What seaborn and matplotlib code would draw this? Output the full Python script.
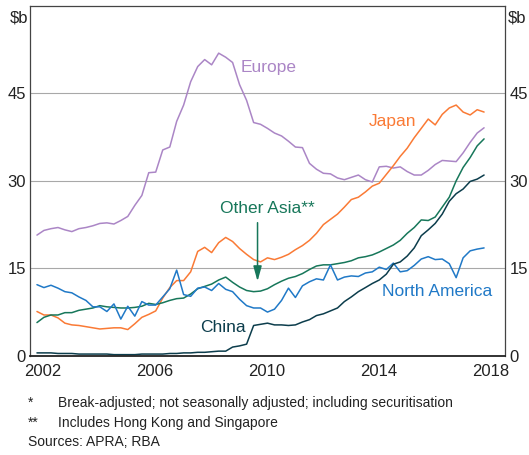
import matplotlib
matplotlib.use("Agg")
from matplotlib import pyplot as plt
import matplotlib.dates as mdates
import pandas as pd
import seaborn as sns

# quarterly observations, Mar-2002 .. Mar-2018 ($b)
dates = pd.date_range("2002-03-31", "2018-03-31", freq="QE")

europe = [20.7, 21.5, 21.8, 22.0, 21.6, 21.3, 21.8, 22.0, 22.3, 22.7, 22.8, 22.6, 23.2, 23.9, 25.8, 27.5,
          31.4, 31.5, 35.3, 35.8, 40.2, 43.0, 47.0, 49.6, 50.8, 49.9, 51.9, 51.2, 50.3, 46.5, 43.8, 40.0,
          39.7, 39.0, 38.2, 37.7, 36.8, 35.8, 35.7, 33.0, 32.0, 31.3, 31.2, 30.5, 30.2, 30.6, 31.0, 30.2,
          29.8, 32.4, 32.5, 32.2, 32.4, 31.6, 31.0, 31.0, 31.8, 32.8, 33.5, 33.4, 33.3, 34.8, 36.6, 38.2, 39.1]
japan = [7.6, 7.0, 7.0, 6.5, 5.6, 5.3, 5.2, 5.0, 4.8, 4.6, 4.7, 4.8, 4.8, 4.5, 5.5, 6.6,
         7.1, 7.7, 9.9, 11.7, 12.9, 12.9, 14.4, 17.9, 18.6, 17.7, 19.4, 20.3, 19.6, 18.4, 17.4, 16.5,
         16.1, 16.8, 16.5, 16.9, 17.4, 18.2, 18.9, 19.8, 21.0, 22.5, 23.4, 24.3, 25.5, 26.8, 27.2, 28.1,
         29.1, 29.6, 31.1, 32.6, 34.2, 35.6, 37.4, 39.0, 40.6, 39.6, 41.4, 42.5, 43.0, 41.8, 41.3, 42.2, 41.8]
other_asia = [5.7, 6.6, 7.0, 7.0, 7.4, 7.4, 7.8, 8.0, 8.2, 8.6, 8.4, 8.3, 8.2, 8.2, 8.3, 8.5,
              9.0, 8.8, 9.1, 9.5, 9.8, 9.9, 10.6, 11.5, 11.9, 12.3, 13.0, 13.5, 12.6, 11.8, 11.2, 11.0,
              11.1, 11.5, 12.2, 12.8, 13.3, 13.6, 14.1, 14.8, 15.4, 15.6, 15.6, 15.8, 16.0, 16.3, 16.8, 17.0,
              17.3, 17.8, 18.4, 19.0, 19.8, 21.0, 22.0, 23.3, 23.2, 23.8, 25.5, 27.2, 30.0, 32.3, 34.0, 36.0, 37.2]
north_america = [12.2, 11.7, 12.1, 11.6, 11.0, 10.8, 10.1, 9.5, 8.4, 8.4, 7.6, 8.9, 6.3, 8.5, 6.8, 9.3,
                 8.7, 8.7, 10.1, 11.5, 14.7, 10.5, 10.2, 11.6, 11.8, 11.2, 12.4, 11.4, 11.0, 9.7, 8.6, 8.2,
                 8.2, 7.5, 8.0, 9.5, 11.6, 10.0, 12.0, 12.7, 13.2, 13.0, 15.6, 13.0, 13.5, 13.7, 13.6, 14.2,
                 14.4, 15.2, 14.8, 15.9, 14.4, 14.6, 15.5, 16.6, 17.0, 16.5, 16.6, 15.8, 13.4, 16.8, 18.0, 18.3, 18.5]
china = [0.5, 0.5, 0.5, 0.4, 0.4, 0.4, 0.3, 0.3, 0.3, 0.3, 0.3, 0.2, 0.2, 0.2, 0.2, 0.3,
         0.3, 0.3, 0.3, 0.4, 0.4, 0.5, 0.5, 0.6, 0.6, 0.7, 0.8, 0.8, 1.5, 1.7, 2.0, 5.2,
         5.4, 5.6, 5.3, 5.3, 5.2, 5.3, 5.8, 6.2, 6.9, 7.2, 7.7, 8.2, 9.3, 10.1, 11.0, 11.7,
         12.4, 13.0, 14.0, 15.7, 16.1, 17.1, 18.5, 20.6, 21.6, 22.7, 24.3, 26.5, 27.8, 28.6, 29.9, 30.3, 31.0]

series_names = ["Europe", "Japan", "Other Asia**", "North America", "China"]
series_values = [europe, japan, other_asia, north_america, china]
colors = {"Europe": "#AB86C6", "Japan": "#FA7A35", "Other Asia**": "#17775A",
          "North America": "#2079C7", "China": "#0C3D4C"}

y_ticks = [0, 15, 30, 45]
label_years = [2002, 2006, 2010, 2014, 2018]
footnotes = ["Break-adjusted; not seasonally adjusted; including securitisation",
             "Includes Hong Kong and Singapore"]

df = pd.concat([pd.DataFrame({"date": dates, "value": v, "region": n})
                for n, v in zip(series_names, series_values)], ignore_index=True)

sns.set_style("white")
plt.rcParams["font.family"] = ["Liberation Sans", "DejaVu Sans"]

fig = plt.figure(figsize=(5.29, 4.55), dpi=100)
ax = fig.add_axes([0.057, 0.218, 0.898, 0.769])

sns.lineplot(data=df, x="date", y="value", hue="region", palette=colors,
             linewidth=1.1, legend=False, ax=ax)

ax.set_xlim(pd.Timestamp("2002-01-01"), pd.Timestamp("2019-01-01"))
ax.set_ylim(0, 60)
ax.set_xlabel("")
ax.set_ylabel("")

for y in y_ticks[1:]:
    ax.axhline(y, color="#a8a8a8", lw=0.8, zorder=0)

# year ticks (inward) and labels centred on each year
ax.xaxis.set_major_locator(mdates.YearLocator(1))
ax.xaxis.set_major_formatter(plt.NullFormatter())
ax.set_xticks([pd.Timestamp(f"{y}-06-20") for y in label_years], minor=True)
ax.set_xticklabels([str(y) for y in label_years], minor=True)
ax.tick_params(axis="x", which="major", direction="in", length=5, width=0.9, color="#333333")
ax.tick_params(axis="x", which="minor", length=0, pad=6, labelsize=12, labelcolor="#222222")

ax.set_yticks(y_ticks)
ax.tick_params(axis="y", which="both", length=0, pad=3, labelsize=12, labelcolor="#222222",
               left=True, right=True, labelleft=True, labelright=True)

for s in ax.spines.values():
    s.set_color("#444444")
    s.set_linewidth(0.9)
ax.spines["bottom"].set_color("#222222")
ax.spines["bottom"].set_linewidth(1.3)

ax.text(-0.005, 0.988, "$b", transform=ax.transAxes, ha="right", va="top", fontsize=12, color="#222222")
ax.text(1.005, 0.988, "$b", transform=ax.transAxes, ha="left", va="top", fontsize=12, color="#222222")

# series labels
lbl = dict(fontsize=12.5)
ax.text(pd.Timestamp("2009-07-10"), 49.4, "Europe", color=colors["Europe"], ha="left", va="center", **lbl)
ax.text(pd.Timestamp("2014-02-10"), 40.1, "Japan", color=colors["Japan"], ha="left", va="center", **lbl)
ax.text(pd.Timestamp("2010-07-01"), 25.2, "Other Asia**", color=colors["Other Asia**"], ha="center", va="center", **lbl)
ax.text(pd.Timestamp("2008-02-01"), 4.8, "China", color=colors["China"], ha="left", va="center", **lbl)
ax.text(pd.Timestamp("2014-08-10"), 11.0, "North America", color=colors["North America"], ha="left", va="center", **lbl)
ax.annotate("", xy=(pd.Timestamp("2010-02-20"), 12.3), xytext=(pd.Timestamp("2010-02-20"), 23.3),
            arrowprops=dict(arrowstyle="-|>,head_length=0.9,head_width=0.25", color=colors["Other Asia**"], lw=1.1))

# footnotes
fn = dict(fontsize=10, va="center", color="#222222")
fig.text(0.053, 1 - 403 / 455, "*", **fn)
fig.text(0.11, 1 - 403 / 455, footnotes[0], **fn)
fig.text(0.053, 1 - 423 / 455, "**", **fn)
fig.text(0.11, 1 - 423 / 455, footnotes[1], **fn)
fig.text(0.053, 1 - 442 / 455, "Sources: APRA; RBA", **fn)

fig.savefig("out.png", dpi=100)
